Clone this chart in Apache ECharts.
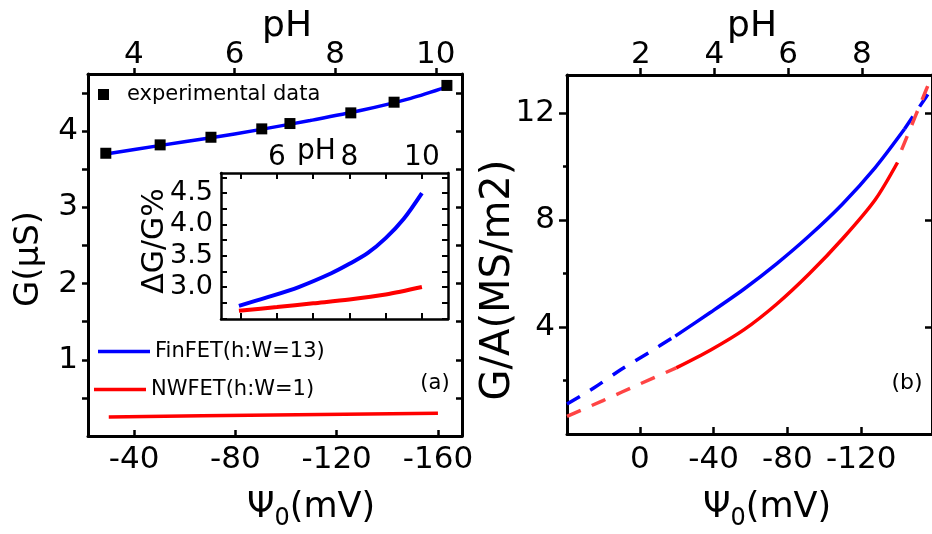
<!DOCTYPE html>
<html>
<head>
<meta charset="utf-8">
<script src="https://cdn.jsdelivr.net/npm/echarts@6/dist/echarts.min.js"></script>
<style>
html,body{margin:0;padding:0;background:#fff;}
#chart{width:932px;height:534px;}
</style>
</head>
<body>
<div id="chart"></div>
<script>
// ---------- data ----------
// Panel (a): experimental data vs pH
const expPH = [3.44, 4.52, 5.53, 6.54, 7.10, 8.31, 9.17, 10.22];
const expG  = [3.71, 3.82, 3.92, 4.03, 4.10, 4.24, 4.38, 4.60];
// Panel (a): FinFET model fit vs pH
const finFitPH = [3.44, 4.5, 5.5, 6.5, 7.5, 8.5, 9.5, 10.22];
const finFitG  = [3.70, 3.81, 3.91, 4.02, 4.14, 4.27, 4.43, 4.58];
// Panel (a): NWFET vs Psi0
const nwPsi = [-30, -95, -160];
const nwG   = [0.25, 0.275, 0.30];
// Inset: dG/G% vs pH
const insetFinPH = [4.95, 5.7, 6.6, 7.5, 8.0, 8.5, 9.0, 9.5, 10.0];
const insetFinV  = [2.70, 2.83, 3.00, 3.22, 3.37, 3.54, 3.78, 4.09, 4.50];
const insetNwPH  = [4.95, 6.0, 7.0, 8.0, 9.0, 10.0];
const insetNwV   = [2.62, 2.68, 2.74, 2.80, 2.88, 3.00];
// Panel (b): G/A vs Psi0
const bFinDashAPsi = [39.5, 25, 10, -5, -19.2];
const bFinDashAV   = [1.12, 1.72, 2.42, 3.05, 3.66];
const bFinPsi = [-19.2, -38.4, -56.5, -74.1, -91.7, -109.9, -127.5, -143.5];
const bFinV   = [3.66, 4.55, 5.42, 6.36, 7.40, 8.60, 9.95, 11.40];
const bFinDashBPsi = [-143.5, -155.2, -158.4];
const bFinDashBV   = [11.40, 12.6, 12.93];
const bNwDashAPsi = [39.5, 20, 0, -19.7];
const bNwDashAV   = [0.66, 1.25, 1.87, 2.47];
const bNwPsi = [-19.7, -38.4, -56.5, -74.1, -91.7, -109.9, -127.5, -139.7];
const bNwV   = [2.47, 3.14, 3.90, 4.85, 5.98, 7.30, 8.75, 10.15];
const bNwDashBPsi = [-141.9, -155.2, -158.4];
const bNwDashBV   = [10.62, 12.86, 13.4];
// tick labels
const aPsiTicks = [-40, -80, -120, -160];
const aPHTicks = [4, 6, 8, 10];
const aGTicks = [1, 2, 3, 4];
const aGMinor = [0.5, 1, 1.5, 2, 2.5, 3, 3.5, 4, 4.5];
const inPHLabels = [6, 8, 10];
const inPHTicks = [5, 6, 7, 8, 9, 10];
const inVLabels = [3.0, 3.5, 4.0, 4.5];
const inVTicks = [2.5, 2.75, 3.0, 3.25, 3.5, 3.75, 4.0, 4.25, 4.5, 4.75];
const bPsiTicks = [0, -40, -80, -120];
const bPHTicks = [2, 4, 6, 8];
const bYTicks = [4, 8, 12];
const bYMinor = [2, 6, 10];

const FF = 'DejaVu Sans';
const BLUE = '#0000ff', RED = '#ff0000', RED2 = '#ff4444';
const zip = (a, b) => a.map((v, i) => [v, b[i]]);

function axisBase(extra) {
  return Object.assign({
    type: 'value', splitLine: {show: false},
    axisLine: {show: true, onZero: false, lineStyle: {color: '#000', width: 3}},
    axisTick: {show: false},
    axisLabel: {show: false}
  }, extra);
}
const thinLine = {show: true, onZero: false, lineStyle: {color: '#000', width: 2.5}};
const lbl = (vals, size, margin, fmt) => ({show: true, customValues: vals, fontFamily: FF, fontSize: size, color: '#000', margin: margin, formatter: fmt});
const tck = (vals, inside, len, w) => ({show: true, customValues: vals, inside: inside, length: len, lineStyle: {color: '#000', width: w || 2.5}});
const curve = (name, xi, yi, x, y, color, width, dashed) => ({
  name: name, type: 'line', xAxisIndex: xi, yAxisIndex: yi, data: zip(x, y),
  smooth: 0.3, showSymbol: false,
  lineStyle: {color: color, width: width, type: dashed ? [15, 12] : 'solid'}, itemStyle: {color: color}, z: 3
});

const chart = echarts.init(document.getElementById('chart'), null, {renderer: 'canvas'});
const option = {
  animation: false,
  backgroundColor: '#fff',
  grid: [
    {left: 88, top: 74, width: 374, height: 362},
    {left: 221, top: 173, width: 227, height: 146},
    {left: 567, top: 75, width: 371, height: 359}
  ],
  xAxis: [
    axisBase({gridIndex: 0, position: 'bottom', inverse: true, min: -169.5, max: -21.8,
      axisLabel: lbl(aPsiTicks, 31, 8), axisTick: tck(aPsiTicks, true, 6)}),
    axisBase({gridIndex: 0, position: 'top', min: 3.086, max: 10.52,
      axisLabel: lbl(aPHTicks, 31, 4), axisTick: tck(aPHTicks, false, 6)}),
    axisBase({gridIndex: 1, position: 'bottom', min: 4.455, max: 10.72,
      axisLine: thinLine, axisTick: tck(inPHTicks, true, 6, 2)}),
    axisBase({gridIndex: 1, position: 'top', min: 4.455, max: 10.72,
      axisLine: thinLine, axisLabel: lbl(inPHLabels, 28, 1), axisTick: tck(inPHTicks, true, 6, 2)}),
    axisBase({gridIndex: 2, position: 'bottom', inverse: true, min: -158.4, max: 39.5,
      axisLabel: lbl(bPsiTicks, 31, 10), axisTick: tck(bPsiTicks, true, 7)}),
    axisBase({gridIndex: 2, position: 'top', min: 0, max: 9.9,
      axisLabel: lbl(bPHTicks, 31, 5), axisTick: tck(bPHTicks, false, 7)})
  ],
  yAxis: [
    axisBase({gridIndex: 0, position: 'left', min: 0, max: 4.75,
      axisLabel: lbl(aGTicks, 31, 10), axisTick: tck(aGMinor, false, 6)}),
    axisBase({gridIndex: 0, position: 'right', min: 0, max: 4.75,
      axisTick: tck(aGMinor, true, 6)}),
    axisBase({gridIndex: 1, position: 'left', min: 2.49, max: 4.82,
      axisLine: thinLine, axisLabel: lbl(inVLabels, 27, 8, v => v.toFixed(1)), axisTick: tck(inVTicks, true, 6, 2)}),
    axisBase({gridIndex: 1, position: 'right', min: 2.49, max: 4.82,
      axisLine: thinLine, axisTick: tck(inVTicks, true, 6, 2)}),
    axisBase({gridIndex: 2, position: 'left', min: 0, max: 13.42,
      axisLabel: lbl(bYTicks, 31, 12), axisTick: tck(bYTicks, false, 8)}),
    axisBase({gridIndex: 2, position: 'left', min: 0, max: 13.42,
      axisLine: {show: false, onZero: false}, axisTick: tck(bYMinor, false, 4)}),
    axisBase({gridIndex: 2, position: 'right', min: 0, max: 13.42,
      axisTick: tck(bYTicks, true, 7)})
  ],
  legend: [
    {data: [{name: 'experimental data', icon: 'rect'}], left: 98, top: 84, itemWidth: 11, itemHeight: 11,
      selectedMode: false, padding: 0,
      textStyle: {fontFamily: FF, fontSize: 21, color: '#000', padding: [0, 0, 0, 13]}},
    {data: [{name: 'FinFET(h:W=13)', icon: 'rect'}], left: 98, top: 341, itemWidth: 52, itemHeight: 3.5,
      selectedMode: false, padding: 0,
      textStyle: {fontFamily: FF, fontSize: 21, color: '#000'}},
    {data: [{name: 'NWFET(h:W=1)', icon: 'rect'}], left: 94, top: 379, itemWidth: 52, itemHeight: 3.5,
      selectedMode: false, padding: 0,
      textStyle: {fontFamily: FF, fontSize: 21, color: '#000'}}
  ],
  series: [
    curve('FinFET(h:W=13)', 1, 0, finFitPH, finFitG, BLUE, 3.5),
    curve('NWFET(h:W=1)', 0, 0, nwPsi, nwG, RED, 3.5),
    {name: 'experimental data', type: 'scatter', xAxisIndex: 1, yAxisIndex: 0, data: zip(expPH, expG),
      symbol: 'rect', symbolSize: 11, itemStyle: {color: '#000', opacity: 1}, z: 5},
    curve('FinFET(h:W=13)', 3, 2, insetFinPH, insetFinV, BLUE, 4),
    curve('NWFET(h:W=1)', 3, 2, insetNwPH, insetNwV, RED, 4),
    curve('FinFET(h:W=13)', 4, 4, bFinPsi, bFinV, BLUE, 3.5),
    curve('FinFET(h:W=13)', 4, 4, bFinDashAPsi, bFinDashAV, BLUE, 3.5, true),
    curve('FinFET(h:W=13)', 4, 4, bFinDashBPsi, bFinDashBV, BLUE, 3.5, true),
    curve('NWFET(h:W=1)', 4, 4, bNwPsi, bNwV, RED, 3.5),
    curve('NWFET(h:W=1)', 4, 4, bNwDashAPsi, bNwDashAV, RED2, 3.5, true),
    curve('NWFET(h:W=1)', 4, 4, bNwDashBPsi, bNwDashBV, RED2, 3.5, true)
  ],
  graphic: [
    {type: 'text', x: 287, y: 27, style: {text: 'pH', fontFamily: FF, fontSize: 36, fill: '#000', align: 'center', verticalAlign: 'middle'}},
    {type: 'text', x: 752, y: 27, style: {text: 'pH', fontFamily: FF, fontSize: 36, fill: '#000', align: 'center', verticalAlign: 'middle'}},
    {type: 'text', x: 297, y: 152, style: {text: 'pH', fontFamily: FF, fontSize: 28, fill: '#000', align: 'left', verticalAlign: 'middle'}},
    {type: 'text', x: 311, y: 508, style: {text: '{a|Ψ}{s|0}{a|(mV)}', align: 'center', verticalAlign: 'middle',
      rich: {a: {fontFamily: FF, fontSize: 35, fill: '#000', lineHeight: 46}, s: {fontFamily: FF, fontSize: 24, fill: '#000', lineHeight: 24, verticalAlign: 'bottom'}}}},
    {type: 'text', x: 767, y: 508, style: {text: '{a|Ψ}{s|0}{a|(mV)}', align: 'center', verticalAlign: 'middle',
      rich: {a: {fontFamily: FF, fontSize: 35, fill: '#000', lineHeight: 46}, s: {fontFamily: FF, fontSize: 24, fill: '#000', lineHeight: 24, verticalAlign: 'bottom'}}}},
    {type: 'text', x: 29, y: 259, rotation: Math.PI / 2, style: {text: 'G(μS)', fontFamily: FF, fontSize: 34, fill: '#000', align: 'center', verticalAlign: 'middle'}},
    {type: 'text', x: 499, y: 280, rotation: Math.PI / 2, style: {text: 'G/A(MS/m2)', fontFamily: FF, fontSize: 40, fill: '#000', align: 'center', verticalAlign: 'middle'}},
    {type: 'text', x: 155, y: 241, rotation: Math.PI / 2, style: {text: 'ΔG/G%', fontFamily: FF, fontSize: 30, fill: '#000', align: 'center', verticalAlign: 'middle'}},
    {type: 'text', x: 435, y: 384, style: {text: '(a)', fontFamily: FF, fontSize: 21, fill: '#000', align: 'center', verticalAlign: 'middle'}},
    {type: 'text', x: 907, y: 383, style: {text: '(b)', fontFamily: FF, fontSize: 22, fill: '#000', align: 'center', verticalAlign: 'middle'}}
  ]
};
chart.setOption(option);
</script>
</body>
</html>
